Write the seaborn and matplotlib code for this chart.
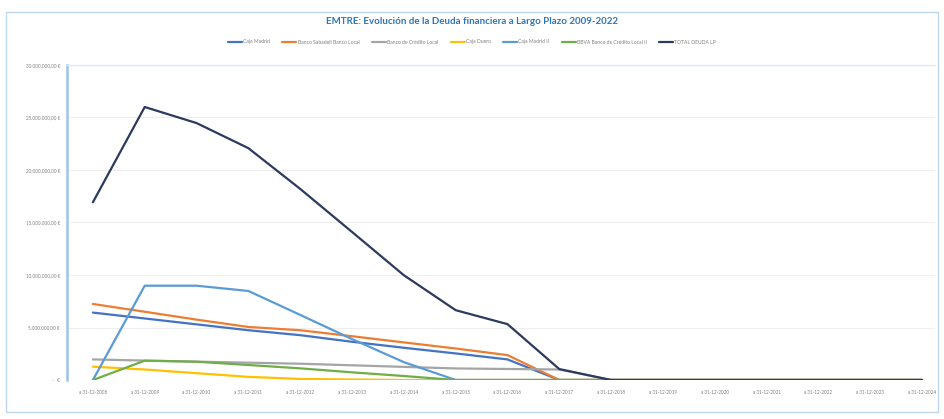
import matplotlib
matplotlib.use("Agg")
import matplotlib.pyplot as plt
from matplotlib.patches import Rectangle
from matplotlib.ticker import FuncFormatter
import seaborn as sns
import pandas as pd

# Fechas de cierre (categorías del eje X)
years = list(range(2008, 2025))
date_labels = [f"a 31-12-{y}" for y in years]

# Deuda viva a largo plazo por entidad (€)
caja_madrid = [6.42e6, 5.86e6, 5.30e6, 4.74e6, 4.27e6, 3.64e6, 3.07e6, 2.53e6, 1.96e6,
               0, 0, 0, 0, 0, 0, 0, 0]
sabadell = [7.24e6, 6.50e6, 5.75e6, 5.05e6, 4.74e6, 4.17e6, 3.58e6, 3.00e6, 2.37e6,
            0, 0, 0, 0, 0, 0, 0, 0]
credito_local = [1.96e6, 1.85e6, 1.75e6, 1.65e6, 1.55e6, 1.40e6, 1.25e6, 1.10e6, 1.05e6,
                 1.00e6, 0, 0, 0, 0, 0, 0, 0]
caja_duero = [1.27e6, 1.00e6, 0.65e6, 0.30e6, 0.10e6, 0.05e6, 0, 0, 0,
              0, 0, 0, 0, 0, 0, 0, 0]
caja_madrid_ii = [0, 8.98e6, 8.98e6, 8.48e6, 6.20e6, 3.90e6, 1.70e6, 0, 0,
                  0, 0, 0, 0, 0, 0, 0, 0]
bbva_credito_local = [0, 1.84e6, 1.74e6, 1.43e6, 1.11e6, 0.73e6, 0.38e6, 0, 0,
                      0, 0, 0, 0, 0, 0, 0, 0]
total = [16.93e6, 26.0e6, 24.47e6, 22.08e6, 18.2e6, 14.1e6, 9.98e6, 6.65e6, 5.32e6,
         1.04e6, 0, 0, 0, 0, 0, 0, 0]

series_names = ["Caja Madrid", "Banco Sabadell Banco Local", "Banco de Crédito Local",
                "Caja Duero", "Caja Madrid II", "BBVA Banco de Crédito Local II",
                "TOTAL DEUDA LP"]
series_values = [caja_madrid, sabadell, credito_local, caja_duero,
                 caja_madrid_ii, bbva_credito_local, total]
series_colors = ["#4472C4", "#ED7D31", "#A5A5A5", "#FFC000", "#5B9BD5", "#70AD47", "#2B3A5E"]

rows = []
for name, vals in zip(series_names, series_values):
    for i, v in enumerate(vals):
        rows.append({"pos": i, "serie": name, "valor": v})
df = pd.DataFrame(rows)

sns.set_theme(style="white")
plt.rcParams["font.family"] = ["Lato", "DejaVu Sans"]

fig = plt.figure(figsize=(9.44, 4.19), dpi=100)
ax = fig.add_axes([67 / 944, 39 / 419, (935 - 67) / 944, (380 - 65) / 419])

sns.lineplot(data=df, x="pos", y="valor", hue="serie", hue_order=series_names,
             palette=series_colors, linewidth=1.6, ax=ax, legend=True, zorder=3)

ax.set_xlim(-0.5, 16.25)
ax.set_ylim(0, 30e6)
ax.set_yticks([0, 5e6, 10e6, 15e6, 20e6, 25e6, 30e6])


def euro_fmt(v, _):
    if v == 0:
        return "-   €"
    s = f"{v:,.2f}".replace(",", "X").replace(".", ",").replace("X", ".")
    return f"{s} €"


ax.yaxis.set_major_formatter(FuncFormatter(euro_fmt))
ax.set_xticks(range(len(years)))
ax.set_xticklabels(date_labels)
ax.tick_params(axis="both", labelsize=3.3, colors="#7F7F7F", length=0)
ax.tick_params(axis="y", pad=5)
ax.tick_params(axis="x", pad=7)
ax.set_xlabel("")
ax.set_ylabel("")
ax.grid(axis="y", color="#EEEEEE", linewidth=0.8)
ax.grid(axis="x", visible=False)
for side in ["right", "bottom"]:
    ax.spines[side].set_visible(False)
ax.spines["left"].set_color("#9DC3E6")
ax.spines["left"].set_linewidth(1.8)
ax.spines["top"].set_color("#DDEBF7")
ax.spines["top"].set_linewidth(1.0)

handles, labels = ax.get_legend_handles_labels()
ax.get_legend().remove()
fig.legend(handles, labels, loc="center", bbox_to_anchor=(0.5, 1 - 42 / 419), ncol=7,
           frameon=False, fontsize=3.6, handlelength=2.8, handletextpad=0.3,
           columnspacing=2.4, labelcolor="#7F7F7F")

fig.text(0.5, 1 - 21 / 419, "EMTRE: Evolución de la Deuda financiera a Largo Plazo 2009-2022",
         ha="center", va="center", fontsize=7.0, fontweight="bold", color="#2E75B6")

# Marco del área del gráfico
fig.patches.append(Rectangle((6 / 944, 1 - 412 / 419), (938 - 6) / 944, (412 - 12) / 419,
                             transform=fig.transFigure, fill=False,
                             edgecolor="#BDD7EE", linewidth=1.0))

fig.savefig("out.png", dpi=100)
